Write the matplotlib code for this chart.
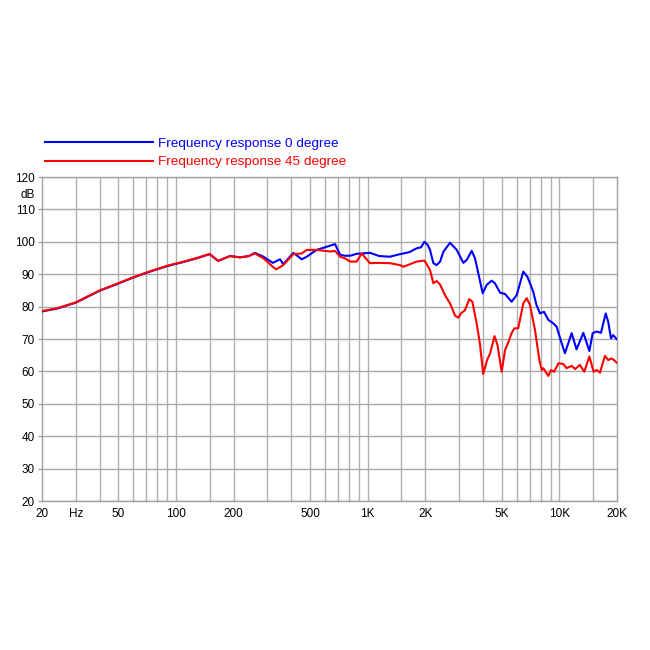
import matplotlib
matplotlib.use("Agg")
import matplotlib.pyplot as plt

plt.rcParams['font.family'] = ['Liberation Sans', 'DejaVu Sans']

# frequency (Hz) / level (dB)
freq_0 = [20, 24, 30, 40, 50, 60, 75, 90, 110, 130, 145, 150, 166, 191, 216, 240, 258, 286,
          320, 349, 363, 410, 453, 481, 542, 637, 676, 718, 762, 809, 877, 931, 1028, 1150,
          1308, 1476, 1535, 1650, 1803, 1900, 1977, 2060, 2115, 2203, 2292, 2388, 2483, 2690,
          2916, 3158, 3288, 3492, 3632, 3779, 3983, 4180, 4437, 4614, 4909, 5212, 5638,
          5998, 6490, 6815, 7033, 7311, 7600, 7930, 8320, 8766, 9313, 9683, 10160, 10700,
          11600, 12300, 13350, 14350, 14930, 15670, 16500, 17460, 18000, 18600, 19100,
          19900]
level_0 = [78.5, 79.4, 81.2, 84.9, 87.1, 89.0, 91.0, 92.5, 93.8, 95.0, 95.9, 96.2, 94.1, 95.6,
           95.2, 95.6, 96.6, 95.4, 93.5, 94.6, 93.1, 96.6, 94.6, 95.4, 97.5, 98.8, 99.3, 96.0,
           95.7, 95.7, 96.3, 96.4, 96.6, 95.6, 95.4, 96.2, 96.4, 96.8, 98.0, 98.3, 100.0, 99.0,
           97.5, 93.4, 92.8, 93.9, 96.9, 99.7, 97.5, 93.5, 94.4, 97.2, 94.9, 90.3, 84.1,
           86.7, 88.0, 87.2, 84.3, 83.9, 81.5, 83.6, 90.8, 89.2, 87.2, 84.6, 80.5, 77.9,
           78.4, 75.9, 74.8, 73.8, 69.7, 65.6, 71.8, 66.8, 71.9, 66.3, 71.8, 72.3, 71.9,
           77.9, 75.3, 70.2, 71.2, 70.0]

freq_45 = [20, 24, 30, 40, 50, 60, 75, 90, 110, 130, 145, 150, 166, 191, 216, 240, 258, 286,
           320, 333, 363, 410, 453, 481, 542, 637, 676, 718, 762, 809, 877, 931, 1028, 1150,
           1308, 1476, 1535, 1650, 1803, 1977, 2060, 2115, 2203, 2292, 2388, 2530, 2690,
           2859, 2974, 3080, 3220, 3390, 3520, 3706, 3850, 4009, 4200, 4357, 4592, 4760,
           5004, 5212, 5400, 5638, 5830, 6105, 6490, 6760, 7030, 7466, 7870, 8100, 8250,
           8766, 9050, 9400, 9895, 10500, 10900, 11600, 12100, 12800, 13500, 14350, 15100,
           15700, 16300, 17300, 18000, 18700, 19300, 19900]
level_45 = [78.6, 79.5, 81.3, 85.0, 87.2, 89.1, 91.1, 92.6, 93.9, 95.1, 96.0, 96.2, 94.1, 95.6,
            95.2, 95.6, 96.4, 94.9, 92.3, 91.5, 92.8, 96.2, 96.4, 97.5, 97.5, 97.0, 97.2, 95.4,
            94.9, 93.9, 93.9, 96.4, 93.4, 93.5, 93.4, 92.8, 92.3, 93.0, 93.9, 94.2, 92.5,
            91.3, 87.2, 87.9, 86.8, 83.6, 81.0, 77.2, 76.6, 78.0, 78.9, 82.3, 81.5, 74.8,
            68.7, 59.2, 63.5, 65.6, 70.9, 68.1, 59.9, 66.6, 68.7, 71.8, 73.3, 73.3, 81.0,
            82.6, 80.5, 72.8, 63.5, 60.4, 61.0, 58.6, 60.4, 59.9, 62.5, 62.3, 61.0, 61.7,
            60.7, 62.0, 59.9, 64.6, 59.9, 60.4, 59.6, 64.8, 63.5, 64.0, 63.5, 62.7]

grid_freqs = [30, 40, 50, 60, 70, 80, 90, 100, 150, 200, 300, 400, 500, 600, 700, 800, 900,
              1000, 1500, 2000, 3000, 4000, 5000, 6000, 7000, 8000, 9000, 10000, 15000]
x_ticks = [20, 30, 50, 100, 200, 500, 1000, 2000, 5000, 10000, 20000]
x_labels = ['20', 'Hz', '50', '100', '200', '500', '1K', '2K', '5K', '10K', '20K']
y_ticks = list(range(20, 121, 10))
y_labels = [str(v) for v in y_ticks]

fig = plt.figure(figsize=(6.5, 6.5), dpi=100)
ax = fig.add_axes([42 / 650, 1 - 501 / 650, 575 / 650, 324 / 650])

ax.set_xscale('log')
ax.set_xlim(20, 20000)
ax.set_ylim(20, 120)

for f in grid_freqs:
    ax.axvline(f, color='#b0b0b0', lw=1, zorder=1)
for v in y_ticks:
    ax.axhline(v, color='#a8a8a8', lw=1, zorder=1)

ax.plot(freq_0, level_0, color='#0000ff', lw=1.5, zorder=3,
        label='Frequency response 0 degree')
ax.plot(freq_45, level_45, color='#ff0000', lw=1.5, zorder=4,
        label='Frequency response 45 degree')

ax.set_xticks(x_ticks)
ax.set_xticklabels(x_labels)
ax.xaxis.set_minor_locator(matplotlib.ticker.NullLocator())
ax.set_yticks(y_ticks)
ax.set_yticklabels(y_labels)
ax.tick_params(axis='both', labelsize=8.5, color='#a0a0a0', length=3, width=1, pad=2)
ax.tick_params(axis='x', length=0, pad=5)
for s in ax.spines.values():
    s.set_color('#a0a0a0')
    s.set_linewidth(1)

ax.text(-0.012, 0.945, 'dB', transform=ax.transAxes, ha='right', va='center', fontsize=8.5)

leg = ax.legend(loc='lower left', bbox_to_anchor=(-0.004, 1.01), frameon=False,
                handlelength=8.0, handletextpad=0.35, labelspacing=0.45,
                fontsize=9.7, labelcolor='linecolor', borderaxespad=0)
for line in leg.get_lines():
    line.set_linewidth(1.5)

fig.savefig('out.png', dpi=100)
